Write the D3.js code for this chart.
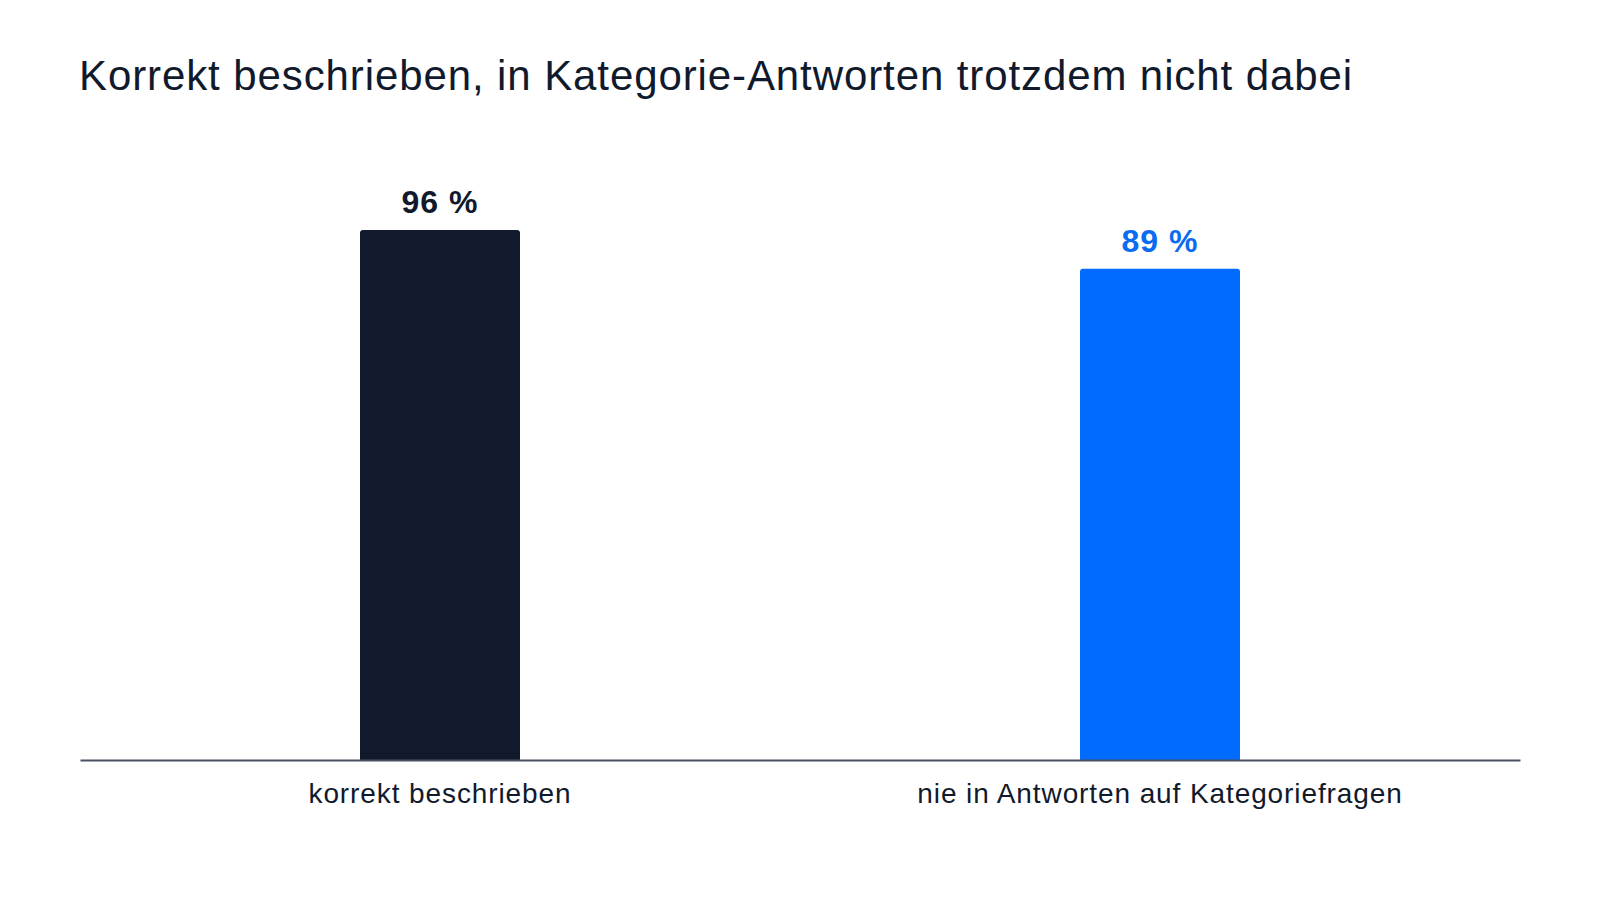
<!DOCTYPE html>
<html>
<head>
<meta charset="utf-8">
<script src="https://cdn.jsdelivr.net/npm/d3@7"></script>
<style>
  html, body { margin: 0; padding: 0; background: #ffffff; }
  svg { display: block; font-family: "Liberation Sans", Arial, Helvetica, sans-serif; }
</style>
</head>
<body>
<svg id="chart" width="1600" height="900"></svg>
<script>
const title = "Korrekt beschrieben, in Kategorie-Antworten trotzdem nicht dabei";
const categories = ["korrekt beschrieben", "nie in Antworten auf Kategoriefragen"];
const values = [96, 89];
const valueLabels = ["96 %", "89 %"];
const barColors = ["#111a2c", "#006bfe"];
const labelColors = ["#111a2c", "#0a6cf0"];

const W = 1600, H = 900;
const margin = { left: 80, right: 80, top: 208, bottom: 140 };
const svg = d3.select("#chart");

svg.append("rect").attr("width", W).attr("height", H).attr("fill", "#ffffff");

svg.append("text")
  .attr("x", 79).attr("y", 90)
  .attr("fill", "#111a2c")
  .attr("font-size", 42)
  .attr("letter-spacing", 0.9)
  .text(title);

const x = d3.scaleBand()
  .domain(categories)
  .range([margin.left, W - margin.right])
  .paddingInner(0).paddingOuter(0);

const y = d3.scaleLinear()
  .domain([0, 100])
  .range([760, 208]);

const barW = 160;
const r = 3;

function barPath(cx, top, bottom) {
  const l = cx - barW / 2, rt = cx + barW / 2;
  return `M${l},${bottom} L${l},${top + r} Q${l},${top} ${l + r},${top} L${rt - r},${top} Q${rt},${top} ${rt},${top + r} L${rt},${bottom} Z`;
}

const data = categories.map((c, i) => ({ c, v: values[i], lab: valueLabels[i], i }));

svg.selectAll("path.bar").data(data).enter().append("path")
  .attr("class", "bar")
  .attr("d", d => barPath(x(d.c) + x.bandwidth() / 2, y(d.v), y(0)))
  .attr("fill", d => barColors[d.i]);

svg.selectAll("text.val").data(data).enter().append("text")
  .attr("class", "val")
  .attr("x", d => x(d.c) + x.bandwidth() / 2)
  .attr("y", d => y(d.v) - 17)
  .attr("text-anchor", "middle")
  .attr("font-size", 32)
  .attr("font-weight", "bold")
  .attr("letter-spacing", 1)
  .attr("fill", d => labelColors[d.i])
  .text(d => d.lab);

// axis
const axis = svg.append("g").attr("transform", `translate(0,${y(0)})`)
  .call(d3.axisBottom(x).tickSize(0).tickPadding(0));
axis.select(".domain").attr("stroke", "#4a5060").attr("stroke-width", 2);
axis.selectAll(".tick text")
  .attr("y", 43)
  .attr("dy", 0)
  .attr("font-size", 28)
  .attr("letter-spacing", 0.9)
  .attr("font-family", "\"Liberation Sans\", Arial, Helvetica, sans-serif")
  .attr("fill", "#111a2c");
</script>
</body>
</html>
